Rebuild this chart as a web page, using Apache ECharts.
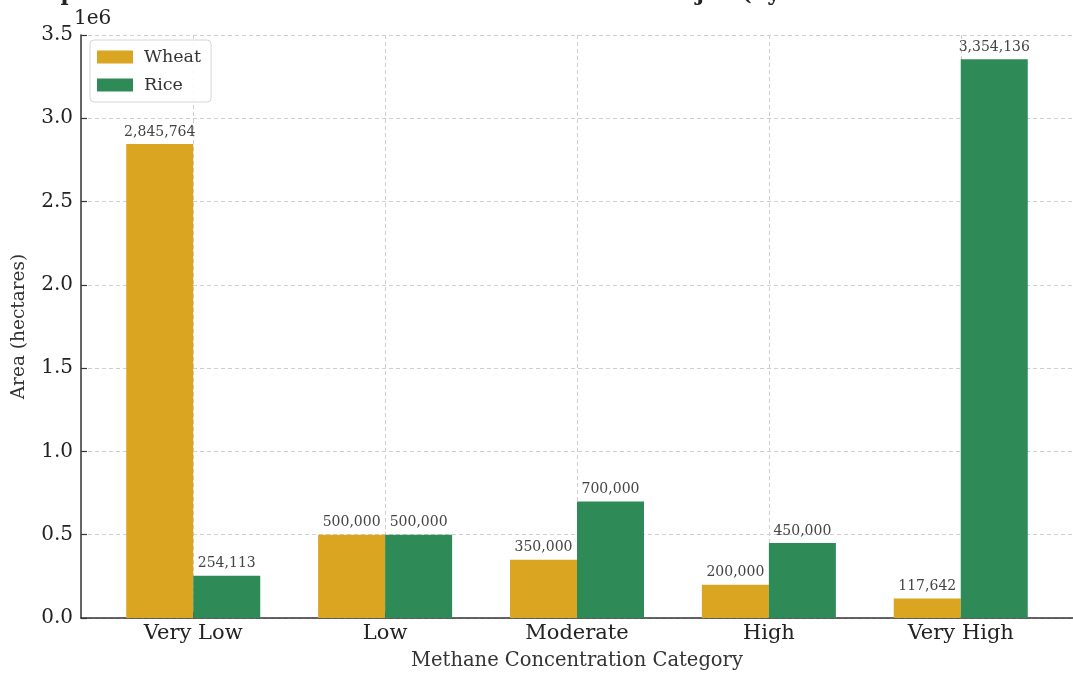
<!DOCTYPE html>
<html>
<head>
<meta charset="utf-8">
<script src="https://cdn.jsdelivr.net/npm/echarts@6/dist/echarts.min.js"></script>
<style>
  html, body { margin: 0; padding: 0; background: #fff; }
  #chart { width: 1073px; height: 676px; }
</style>
</head>
<body>
<div id="chart"></div>
<script>
// Methane concentration categories and cultivated area (hectares) per crop
const categories = ['Very Low', 'Low', 'Moderate', 'High', 'Very High'];
const wheatArea = [2845764, 500000, 350000, 200000, 117642];
const riceArea = [254113, 500000, 700000, 450000, 3354136];
const yTicks = [0, 500000, 1000000, 1500000, 2000000, 2500000, 3000000, 3500000];

const FONT = 'DejaVu Serif';
const chart = echarts.init(document.getElementById('chart'), null, { renderer: 'canvas' });

const fmt = v => Math.round(v).toLocaleString('en-US');
const toPairs = arr => arr.map((v, i) => [i, v]);
const catIdx = categories.map((_, i) => i);

const labelStyle = {
  show: true,
  position: 'top',
  distance: 5,
  fontFamily: FONT,
  fontSize: 14,
  color: '#444',
  formatter: p => fmt(p.value[1])
};

chart.setOption({
  animation: false,
  backgroundColor: '#ffffff',
  title: {
    text: 'Comparison of Wheat and Rice Cultivation Areas in Punjab (by Methane Concentration Category)',
    left: 5,
    top: -16.5,
    padding: 0,
    textStyle: { fontFamily: FONT, fontSize: 22, fontWeight: 'bold', color: '#222' }
  },
  legend: {
    orient: 'vertical',
    left: 90,
    top: 40,
    icon: 'rect',
    itemWidth: 36,
    itemHeight: 13,
    itemGap: 10,
    padding: [8, 10, 8, 7],
    borderColor: '#d6d6d6',
    borderWidth: 1,
    borderRadius: 4,
    backgroundColor: 'rgba(255,255,255,0.85)',
    textStyle: { fontFamily: FONT, fontSize: 17.5, color: '#333', padding: [0, 0, 0, 6] },
    data: ['Wheat', 'Rice']
  },
  graphic: [{
    type: 'text',
    left: 74,
    top: 9,
    style: { text: '1e6', fontFamily: FONT, fontSize: 20, fill: '#222' }
  }],
  grid: { left: 81, top: 35, width: 998, height: 586, containLabel: false },
  xAxis: {
    type: 'value',
    min: -0.585,
    max: 4.585,
    name: 'Methane Concentration Category',
    nameLocation: 'middle',
    nameGap: 33,
    nameTextStyle: { fontFamily: FONT, fontSize: 19.5, color: '#333' },
    axisLine: { show: true, onZero: false, lineStyle: { color: '#333', width: 1.5 } },
    axisTick: { show: true, inside: true, length: 6, customValues: catIdx, lineStyle: { color: '#333', width: 1.2 } },
    axisLabel: {
      customValues: catIdx,
      margin: 5,
      fontFamily: FONT, fontSize: 21, color: '#222',
      formatter: v => categories[Math.round(v)] || ''
    },
    splitLine: { show: true, lineStyle: { type: [4, 3], color: '#cfcfcf', width: 1 } }
  },
  yAxis: {
    type: 'value',
    min: 0,
    max: 3500000,
    interval: 500000,
    name: 'Area (hectares)',
    nameLocation: 'middle',
    nameGap: 52,
    nameTextStyle: { fontFamily: FONT, fontSize: 18.5, color: '#333' },
    axisLine: { show: true, onZero: false, lineStyle: { color: '#333', width: 1.5 } },
    axisTick: { show: true, inside: true, length: 6, lineStyle: { color: '#333', width: 1.2 } },
    axisLabel: {
      margin: 8,
      fontFamily: FONT, fontSize: 20, color: '#222',
      formatter: v => (yTicks.includes(v) ? (v / 1e6).toFixed(1) : '')
    },
    splitLine: { show: true, lineStyle: { type: [4, 3], color: '#cfcfcf', width: 1 } }
  },
  series: [
    {
      name: 'Wheat',
      type: 'bar',
      data: toPairs(wheatArea),
      barWidth: 67,
      barGap: '0%',
      itemStyle: { color: '#DAA520' },
      label: labelStyle
    },
    {
      name: 'Rice',
      type: 'bar',
      data: toPairs(riceArea),
      barWidth: 67,
      barGap: '0%',
      itemStyle: { color: '#2E8B57' },
      label: labelStyle
    }
  ]
});
</script>
</body>
</html>
